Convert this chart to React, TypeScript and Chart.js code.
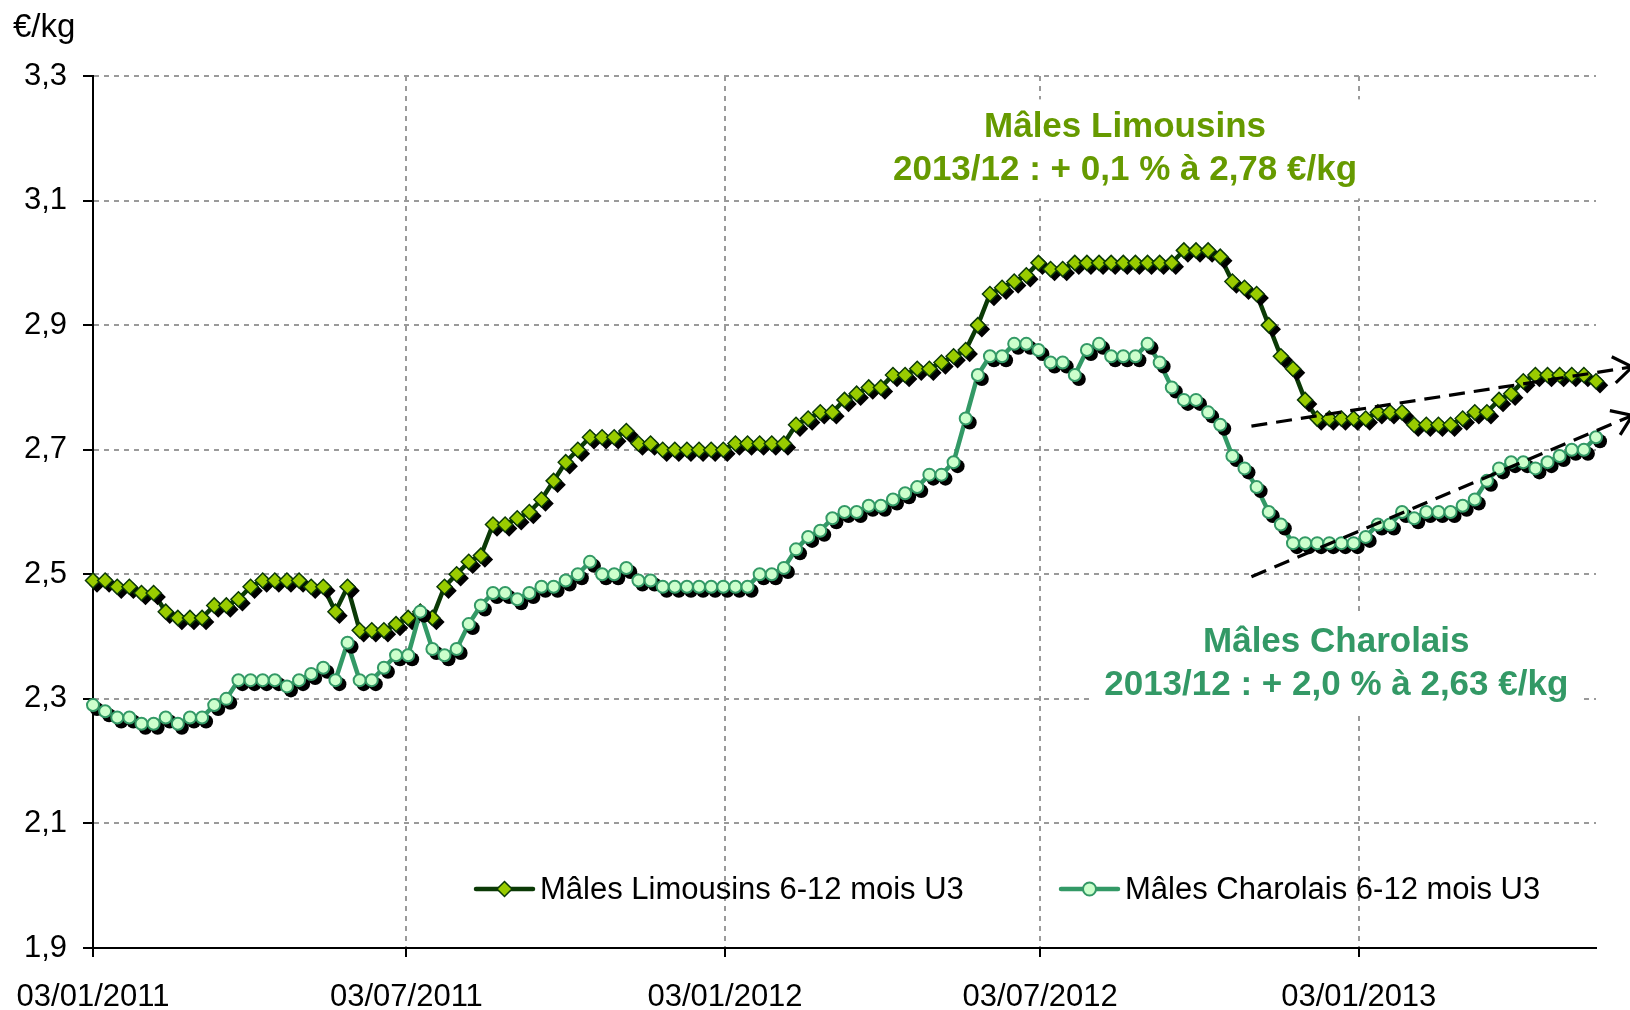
import React, { useEffect, useRef } from 'react';
import { Chart, registerables } from 'chart.js';

Chart.register(...registerables);

const FONT = "'Liberation Sans', Arial, Helvetica, sans-serif";

// ---------- data ----------
const firstWeek = '03/01/2011';
const daysPerWeek = 7;

const limousinLabel = 'Mâles Limousins 6-12 mois U3';
const charolaisLabel = 'Mâles Charolais 6-12 mois U3';

const limousin = [
  2.49, 2.49, 2.48, 2.48, 2.47, 2.47, 2.44, 2.43, 2.43, 2.43,
  2.45, 2.45, 2.46, 2.48, 2.49, 2.49, 2.49, 2.49, 2.48, 2.48,
  2.44, 2.48, 2.41, 2.41, 2.41, 2.42, 2.43, 2.44, 2.43, 2.48,
  2.50, 2.52, 2.53, 2.58, 2.58, 2.59, 2.60, 2.62, 2.65, 2.68,
  2.70, 2.72, 2.72, 2.72, 2.73, 2.71, 2.71, 2.70, 2.70, 2.70,
  2.70, 2.70, 2.70, 2.71, 2.71, 2.71, 2.71, 2.71, 2.74, 2.75,
  2.76, 2.76, 2.78, 2.79, 2.80, 2.80, 2.82, 2.82, 2.83, 2.83,
  2.84, 2.85, 2.86, 2.90, 2.95, 2.96, 2.97, 2.98, 3.00, 2.99,
  2.99, 3.00, 3.00, 3.00, 3.00, 3.00, 3.00, 3.00, 3.00, 3.00,
  3.02, 3.02, 3.02, 3.01, 2.97, 2.96, 2.95, 2.90, 2.85, 2.83,
  2.78, 2.75, 2.75, 2.75, 2.75, 2.75, 2.76, 2.76, 2.76, 2.74,
  2.74, 2.74, 2.74, 2.75, 2.76, 2.76, 2.78, 2.79, 2.81, 2.82,
  2.82, 2.82, 2.82, 2.82, 2.81,
];

const charolais = [
  2.29, 2.28, 2.27, 2.27, 2.26, 2.26, 2.27, 2.26, 2.27, 2.27,
  2.29, 2.30, 2.33, 2.33, 2.33, 2.33, 2.32, 2.33, 2.34, 2.35,
  2.33, 2.39, 2.33, 2.33, 2.35, 2.37, 2.37, 2.44, 2.38, 2.37,
  2.38, 2.42, 2.45, 2.47, 2.47, 2.46, 2.47, 2.48, 2.48, 2.49,
  2.50, 2.52, 2.50, 2.50, 2.51, 2.49, 2.49, 2.48, 2.48, 2.48,
  2.48, 2.48, 2.48, 2.48, 2.48, 2.50, 2.50, 2.51, 2.54, 2.56,
  2.57, 2.59, 2.60, 2.60, 2.61, 2.61, 2.62, 2.63, 2.64, 2.66,
  2.66, 2.68, 2.75, 2.82, 2.85, 2.85, 2.87, 2.87, 2.86, 2.84,
  2.84, 2.82, 2.86, 2.87, 2.85, 2.85, 2.85, 2.87, 2.84, 2.80,
  2.78, 2.78, 2.76, 2.74, 2.69, 2.67, 2.64, 2.60, 2.58, 2.55,
  2.55, 2.55, 2.55, 2.55, 2.55, 2.56, 2.58, 2.58, 2.60, 2.59,
  2.60, 2.60, 2.60, 2.61, 2.62, 2.65, 2.67, 2.68, 2.68, 2.67,
  2.68, 2.69, 2.70, 2.70, 2.72,
];

const xTickLabels = ['03/01/2011', '03/07/2011', '03/01/2012', '03/07/2012', '03/01/2013'];
const yTickValues = [1.9, 2.1, 2.3, 2.5, 2.7, 2.9, 3.1, 3.3];
const yAxisTitle = '€/kg';

const limousinNote = ['Mâles Limousins', '2013/12 : + 0,1 % à 2,78 €/kg'];
const charolaisNote = ['Mâles Charolais', '2013/12 : + 2,0 % à 2,63 €/kg'];
// note anchors: [day offset, value]
const limousinNoteAt = [596, 3.183];
const charolaisNoteAt = [718, 2.357];

// trend lines: [day offset, value] start and end
const limousinTrend = [[669, 2.738], [889, 2.833]];
const charolaisTrend = [[669, 2.496], [889, 2.755]];

// ---------- helpers ----------
function dayOffset(label: string): number {
  const [d, m, y] = label.split('/').map(Number);
  const [d0, m0, y0] = firstWeek.split('/').map(Number);
  return Math.round((Date.UTC(y, m - 1, d) - Date.UTC(y0, m0 - 1, d0)) / 86400000);
}

const tickDays = xTickLabels.map(dayOffset);
const limousinPts = limousin.map((v, i) => ({ x: i * daysPerWeek, y: v }));
const charolaisPts = charolais.map((v, i) => ({ x: i * daysPerWeek, y: v }));
const xMax = (limousin.length - 1) * daysPerWeek;

const C_LIM_LINE = '#0b3a06';
const C_LIM_FILL = '#99cc00';
const C_LIM_TEXT = '#669a00';
const C_CHA_LINE = '#339966';
const C_CHA_FILL = '#ccffcc';
const C_GRID = '#9a9a9a';

function diamond(ctx: CanvasRenderingContext2D, x: number, y: number, r: number) {
  ctx.beginPath();
  ctx.moveTo(x, y - r);
  ctx.lineTo(x + r, y);
  ctx.lineTo(x, y + r);
  ctx.lineTo(x - r, y);
  ctx.closePath();
}

function drawTrend(chart: any, pts: number[][]) {
  const ctx = chart.ctx as CanvasRenderingContext2D;
  const xs = chart.scales.x;
  const ys = chart.scales.y;
  const x1 = xs.getPixelForValue(pts[0][0]);
  const y1 = ys.getPixelForValue(pts[0][1]);
  const x2 = xs.getPixelForValue(pts[1][0]);
  const y2 = ys.getPixelForValue(pts[1][1]);
  ctx.save();
  ctx.strokeStyle = '#000';
  ctx.lineWidth = 3.2;
  ctx.setLineDash([16, 9]);
  ctx.beginPath();
  ctx.moveTo(x1, y1);
  ctx.lineTo(x2, y2);
  ctx.stroke();
  ctx.setLineDash([]);
  const ang = Math.atan2(y2 - y1, x2 - x1);
  const L = 23;
  const sp = (35 * Math.PI) / 180;
  ctx.beginPath();
  ctx.moveTo(x2 - L * Math.cos(ang - sp), y2 - L * Math.sin(ang - sp));
  ctx.lineTo(x2, y2);
  ctx.lineTo(x2 - L * Math.cos(ang + sp), y2 - L * Math.sin(ang + sp));
  ctx.stroke();
  ctx.restore();
}

const NOTE_FONT = `bold 35px ${FONT}`;
const NOTE_GAP = 43;

function noteBox(chart: any, lines: string[], at: number[]) {
  const ctx = chart.ctx as CanvasRenderingContext2D;
  ctx.save();
  ctx.font = NOTE_FONT;
  const w = Math.max(...lines.map((l) => ctx.measureText(l).width));
  ctx.restore();
  const cx = chart.scales.x.getPixelForValue(at[0]);
  const cy = chart.scales.y.getPixelForValue(at[1]);
  return { cx, cy, w };
}

const SHADOW_DX = 4;
const SHADOW_DY = 4;

const overlayPlugin = {
  id: 'overlay',
  beforeDatasetsDraw(chart: any) {
    const ctx = chart.ctx as CanvasRenderingContext2D;
    const notes: [string[], number[]][] = [
      [limousinNote, limousinNoteAt],
      [charolaisNote, charolaisNoteAt],
    ];
    for (const [lines, at] of notes) {
      const { cx, cy, w } = noteBox(chart, lines, at);
      ctx.save();
      ctx.fillStyle = '#ffffff';
      ctx.fillRect(cx - w / 2 - 15, cy - NOTE_GAP / 2 - 28, w + 30, NOTE_GAP + 56);
      ctx.restore();
    }
  },
  beforeDatasetDraw(chart: any, args: any) {
    const ds = chart.data.datasets[args.index];
    if (ds.showLine !== false) return;
    const ctx = chart.ctx as CanvasRenderingContext2D;
    const meta = chart.getDatasetMeta(args.index);
    const r = (ds.pointRadius || 0) + (ds.pointBorderWidth || 0) / 2;
    ctx.save();
    ctx.fillStyle = '#000';
    for (const el of meta.data) {
      const x = el.x + SHADOW_DX;
      const y = el.y + SHADOW_DY;
      if (ds.pointStyle === 'rectRot') {
        diamond(ctx, x, y, r);
      } else {
        ctx.beginPath();
        ctx.arc(x, y, r, 0, Math.PI * 2);
      }
      ctx.fill();
    }
    ctx.restore();
  },
  afterDatasetsDraw(chart: any) {
    drawTrend(chart, limousinTrend);
    drawTrend(chart, charolaisTrend);
  },
  afterDraw(chart: any) {
    const ctx = chart.ctx as CanvasRenderingContext2D;
    // notes text
    const notes: [string[], number[], string][] = [
      [limousinNote, limousinNoteAt, C_LIM_TEXT],
      [charolaisNote, charolaisNoteAt, C_CHA_LINE],
    ];
    for (const [lines, at, color] of notes) {
      const { cx, cy } = noteBox(chart, lines, at);
      ctx.save();
      ctx.font = NOTE_FONT;
      ctx.fillStyle = color;
      ctx.textAlign = 'center';
      ctx.textBaseline = 'middle';
      ctx.fillText(lines[0], cx, cy - NOTE_GAP / 2);
      ctx.fillText(lines[1], cx, cy + NOTE_GAP / 2);
      ctx.restore();
    }
    // y axis title
    ctx.save();
    ctx.font = `33px ${FONT}`;
    ctx.fillStyle = '#000';
    ctx.textAlign = 'left';
    ctx.textBaseline = 'alphabetic';
    ctx.fillText(yAxisTitle, 13, 37);
    ctx.restore();
    // legend
    const ly = 889;
    const items = [
      { x: 476, label: limousinLabel, kind: 'diamond' },
      { x: 1061, label: charolaisLabel, kind: 'circle' },
    ];
    for (const it of items) {
      ctx.save();
      ctx.lineWidth = 4.5;
      ctx.lineCap = 'round';
      ctx.strokeStyle = it.kind === 'diamond' ? C_LIM_LINE : C_CHA_LINE;
      ctx.beginPath();
      ctx.moveTo(it.x, ly);
      ctx.lineTo(it.x + 57, ly);
      ctx.stroke();
      const mx = it.x + 28.5;
      if (it.kind === 'diamond') {
        diamond(ctx, mx, ly, 7.5);
        ctx.fillStyle = C_LIM_FILL;
        ctx.fill();
        ctx.lineWidth = 1.5;
        ctx.strokeStyle = C_LIM_LINE;
        ctx.stroke();
      } else {
        ctx.beginPath();
        ctx.arc(mx, ly, 6.5, 0, Math.PI * 2);
        ctx.fillStyle = C_CHA_FILL;
        ctx.fill();
        ctx.lineWidth = 2;
        ctx.strokeStyle = C_CHA_LINE;
        ctx.stroke();
      }
      ctx.font = `31px ${FONT}`;
      ctx.fillStyle = '#000';
      ctx.textAlign = 'left';
      ctx.textBaseline = 'middle';
      ctx.fillText(it.label, it.x + 64, ly + 1);
      ctx.restore();
    }
  },
};

const TRANSPARENT = 'rgba(0,0,0,0)';

export default function App() {
  const canvasRef = useRef<HTMLCanvasElement | null>(null);

  useEffect(() => {
    document.body.style.margin = '0';
    const canvas = canvasRef.current;
    if (!canvas) return;
    const chart = new Chart(canvas, {
      type: 'line',
      data: {
        datasets: [
          {
            label: charolaisLabel,
            data: charolaisPts,
            showLine: false,
            pointStyle: 'circle',
            pointRadius: 6,
            pointBackgroundColor: C_CHA_FILL,
            pointBorderColor: C_CHA_LINE,
            pointBorderWidth: 2,
            clip: false,
          } as any,
          {
            label: charolaisLabel + ' (ligne)',
            data: charolaisPts,
            borderColor: C_CHA_LINE,
            borderWidth: 4.5,
            pointRadius: 0,
            tension: 0,
            clip: false,
          } as any,
          {
            label: limousinLabel,
            data: limousinPts,
            showLine: false,
            pointStyle: 'rectRot',
            pointRadius: 7.5,
            pointBackgroundColor: C_LIM_FILL,
            pointBorderColor: C_LIM_LINE,
            pointBorderWidth: 1.5,
            clip: false,
          } as any,
          {
            label: limousinLabel + ' (ligne)',
            data: limousinPts,
            borderColor: C_LIM_LINE,
            borderWidth: 4.5,
            pointRadius: 0,
            tension: 0,
            clip: false,
          } as any,
        ],
      },
      options: {
        responsive: false,
        animation: false,
        devicePixelRatio: 1,
        events: [],
        layout: { padding: { top: 76, right: 34, bottom: 0, left: 0 } },
        plugins: {
          legend: { display: false },
          tooltip: { enabled: false },
          title: { display: false },
        },
        scales: {
          x: {
            type: 'linear',
            min: 0,
            max: xMax,
            afterBuildTicks: (scale: any) => {
              scale.ticks = tickDays.map((v) => ({ value: v }));
            },
            afterFit: (scale: any) => {
              scale.height = 62;
              scale.paddingLeft = 0;
              scale.paddingRight = 0;
            },
            ticks: {
              autoSkip: false,
              maxRotation: 0,
              padding: 22,
              color: '#000',
              font: { family: FONT, size: 31 },
              callback: (v: any) => {
                const idx = tickDays.indexOf(Number(v));
                return idx >= 0 ? xTickLabels[idx] : '';
              },
            },
            grid: {
              color: (c: any) => (c.tick && c.tick.value === 0 ? TRANSPARENT : C_GRID),
              lineWidth: 2,
              drawTicks: true,
              tickLength: 9,
              tickColor: '#000',
              tickWidth: 2,
              tickBorderDash: [],
            },
            border: { display: true, color: '#000', width: 2, dash: [5, 5] },
          },
          y: {
            type: 'linear',
            min: yTickValues[0],
            max: yTickValues[yTickValues.length - 1],
            afterBuildTicks: (scale: any) => {
              scale.ticks = yTickValues.map((v) => ({ value: v }));
            },
            afterFit: (scale: any) => {
              scale.width = 93;
            },
            ticks: {
              padding: 16,
              color: '#000',
              font: { family: FONT, size: 31 },
              callback: (v: any) => Number(v).toFixed(1).replace('.', ','),
            },
            grid: {
              color: (c: any) =>
                c.tick && Math.abs(c.tick.value - yTickValues[0]) < 1e-6 ? TRANSPARENT : C_GRID,
              lineWidth: 2,
              drawTicks: true,
              tickLength: 10,
              tickColor: '#000',
              tickWidth: 2,
              tickBorderDash: [],
            },
            border: { display: true, color: '#000', width: 2, dash: [5, 5] },
          },
        },
      } as any,
      plugins: [overlayPlugin as any],
    });
    return () => chart.destroy();
  }, []);

  return (
    <div style={{ width: 1630, height: 1010, position: 'relative', overflow: 'hidden', background: '#fff' }}>
      <canvas ref={canvasRef} width={1630} height={1010} style={{ display: 'block' }} />
    </div>
  );
}
